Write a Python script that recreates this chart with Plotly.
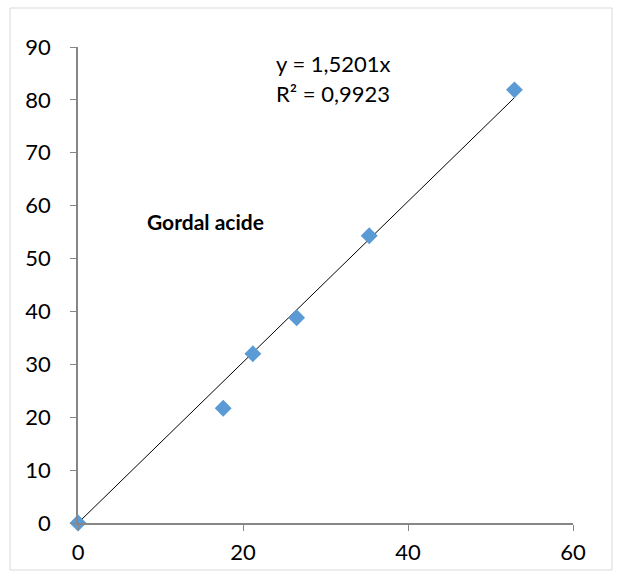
import plotly.graph_objects as go

x_vals = [0, 17.6, 21.2, 26.5, 35.3, 52.9]
y_vals = [0, 21.7, 32.0, 38.8, 54.3, 81.9]
slope = 1.5201
eq_text = "y = 1,5201x"
r2_text = "R² = 0,9923"
label_text = "<b>Gordal acide</b>"

FONT = "Lato, Open Sans, sans-serif"

fig = go.Figure()
trend_x = [0, max(x_vals)]
trend_y = [slope * v for v in trend_x]
fig.add_trace(go.Scatter(x=trend_x, y=trend_y, mode="lines",
                         line=dict(color="black", width=1), showlegend=False,
                         hoverinfo="skip"))
fig.add_trace(go.Scatter(x=x_vals, y=y_vals, mode="markers",
                         marker=dict(symbol="diamond", size=13, color="#5B9BD5"),
                         showlegend=False, cliponaxis=False))

axis_common = dict(showgrid=False, zeroline=False, showline=True, automargin=False,
                   linecolor="#868686", linewidth=1.5, ticks="outside",
                   tickcolor="#868686", ticklen=6, tickwidth=1,
                   tickfont=dict(family=FONT, size=22, color="black"))
fig.update_xaxes(range=[0, 60], tickvals=[0, 20, 40, 60], ticklabelstandoff=3, **axis_common)
fig.update_yaxes(range=[0, 90], tickvals=list(range(0, 91, 10)), ticklabelstandoff=15, **axis_common)

def px_x(p):
    return (p - 78) / 495

def px_y(p):
    return (523 - p) / 476

ann_common = dict(xref="paper", yref="paper", showarrow=False,
                  xanchor="center", yanchor="middle")
fig.add_annotation(x=px_x(333), y=px_y(64), text=eq_text,
                   font=dict(family=FONT, size=22, color="black"), **ann_common)
fig.add_annotation(x=px_x(333), y=px_y(93), text=r2_text,
                   font=dict(family=FONT, size=22, color="black"), **ann_common)
fig.add_annotation(x=px_x(205), y=px_y(221), text=label_text,
                   font=dict(family=FONT, size=21, color="black"), **ann_common)

fig.add_shape(type="rect", xref="paper", yref="paper",
              x0=px_x(10), x1=px_x(612), y0=px_y(570), y1=px_y(8),
              line=dict(color="#D9D9D9", width=1))

fig.update_layout(width=618, height=576, margin=dict(l=78, r=45, t=47, b=53),
                  plot_bgcolor="white", paper_bgcolor="white")
fig.write_html("out.html")
